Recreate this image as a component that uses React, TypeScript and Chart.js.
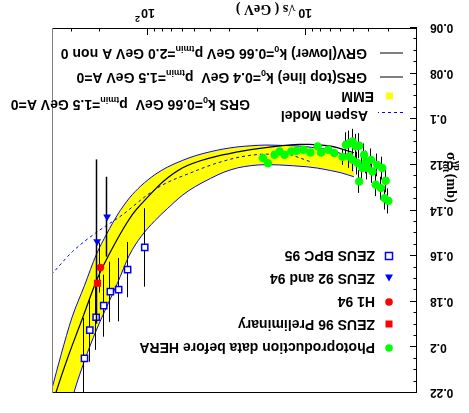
import React, { useEffect, useRef } from "react";
import { Chart, registerables } from "chart.js";

Chart.register(...registerables);

// ---------------- data (sqrt(s) in GeV, sigma in mb) ----------------
const EMM_SQRTS = [5, 6, 7, 8.5, 10, 12, 15, 18, 22, 27, 33, 40, 50, 60, 75, 90, 110, 130, 155, 180, 210, 250, 300, 350, 400];
const EMM_LOW = [0.1169, 0.1151, 0.1135, 0.1127, 0.112, 0.1116, 0.1114, 0.1113, 0.1116, 0.1121, 0.113, 0.1142, 0.116, 0.118, 0.121, 0.1243, 0.1292, 0.1345, 0.142, 0.15, 0.1592, 0.173, 0.1871, 0.203, 0.218];
const EMM_HIGH = [0.1252, 0.1235, 0.1225, 0.1214, 0.1208, 0.1204, 0.12, 0.1199, 0.1203, 0.1213, 0.1232, 0.1259, 0.1295, 0.1332, 0.1392, 0.1445, 0.1515, 0.1595, 0.172, 0.1819, 0.1924, 0.206, 0.223, 0.242, 0.261];

const GRS_SQRTS = [5, 7, 11, 18, 27, 40, 60, 80, 105, 125, 165, 210, 255, 315, 380, 420];
const GRS_SIGMA = [0.1147, 0.1118, 0.111, 0.1124, 0.1143, 0.1169, 0.1213, 0.1274, 0.1358, 0.1419, 0.156, 0.1708, 0.1866, 0.2036, 0.2204, 0.231];

const ASPEN_SQRTS = [9.5, 11, 13.3, 17.7, 25, 36.5, 54, 80, 100, 144, 213, 297, 400];
const ASPEN_SIGMA = [0.1185, 0.1169, 0.1153, 0.1153, 0.1163, 0.1192, 0.1236, 0.1287, 0.1331, 0.1419, 0.1499, 0.158, 0.1678];

const PRE_SQRTS = [18.72, 17.41, 15.81, 14.71, 13.68, 12.42, 11.5, 10.4, 9.4, 8.46, 8.05, 7.25, 6.65, 5.89, 5.61, 5.35, 5.1, 4.86, 4.63, 5.35, 5.1, 4.75, 4.63, 4.31, 4.2, 4.42, 4.11, 3.89, 3.82, 3.64, 3.38, 3.56, 3.31, 3.15, 3.2, 3.03];
const PRE_SIGMA = [0.117, 0.1193, 0.1156, 0.1141, 0.1156, 0.1141, 0.1138, 0.1134, 0.1146, 0.1119, 0.1146, 0.1134, 0.1148, 0.1165, 0.1112, 0.1105, 0.1097, 0.1119, 0.1116, 0.1163, 0.1178, 0.1192, 0.1273, 0.1156, 0.1187, 0.1214, 0.1214, 0.1178, 0.1229, 0.1287, 0.1302, 0.12, 0.1214, 0.127, 0.1346, 0.1358];
const PRE_ERR = [0.0015, 0.0015, 0.0015, 0.0015, 0.0015, 0.0015, 0.0015, 0.0015, 0.0015, 0.0015, 0.0015, 0.0015, 0.0015, 0.0035, 0.0055, 0.0055, 0.0055, 0.0055, 0.0055, 0.005, 0.005, 0.005, 0.005, 0.005, 0.005, 0.005, 0.005, 0.005, 0.005, 0.005, 0.005, 0.005, 0.005, 0.005, 0.005, 0.0055];

const BPC95_SQRTS = [249.6, 231.1, 210.7, 188.8, 171.4, 152.0, 133.5, 104.1];
const BPC95_SIGMA = [0.2048, 0.1924, 0.1868, 0.1817, 0.1756, 0.1747, 0.1659, 0.1562];
const BPC95_ERR = [0.0177, 0.0139, 0.0143, 0.0136, 0.0132, 0.0139, 0.0121, 0.0172];

const ZEUS9294_SQRTS = [207.7, 179.8];
const ZEUS9294_SIGMA = [0.1536, 0.1427];
const ZEUS9294_ERR = [0.036, 0.0175];

const H194_SQRTS = [198];
const H194_SIGMA = [0.165];
const H194_ERR = [0.011];

const ZEUS96_SQRTS = [206.8];
const ZEUS96_SIGMA = [0.1719];
const ZEUS96_ERR = [0.015];

const Y_TICKS = [0.06, 0.08, 0.1, 0.12, 0.14, 0.16, 0.18, 0.2, 0.22];
const Y_TICK_LABELS = ["0.06", "0.08", "0.1", "0.12", "0.14", "0.16", "0.18", "0.2", "0.22"];
const X_MAJOR = [10, 100];
const X_MINOR = [3, 4, 5, 6, 7, 8, 9, 20, 30, 40, 50, 60, 70, 80, 90, 200, 300];

// ---------------- helpers ----------------
const SANS = "'Liberation Sans', Arial, Helvetica, sans-serif";
const SERIF = "'Liberation Serif', 'Times New Roman', serif";

type Part = { t: string; sub?: boolean; sup?: boolean };

function drawRich(ctx: CanvasRenderingContext2D, parts: Part[], x: number, y: number, size: number, family = SANS) {
  let cx = x;
  for (const p of parts) {
    const s = p.sub || p.sup ? Math.round(size * 0.65) : size;
    ctx.font = `bold ${s}px ${family}`;
    const dy = p.sub ? size * 0.32 : p.sup ? -size * 0.4 : 0;
    ctx.fillText(p.t, cx, y + dy);
    cx += ctx.measureText(p.t).width;
  }
  return cx;
}

function line(ctx: CanvasRenderingContext2D, x1: number, y1: number, x2: number, y2: number) {
  ctx.beginPath();
  ctx.moveTo(x1, y1);
  ctx.lineTo(x2, y2);
  ctx.stroke();
}

const decorPlugin = {
  id: "decor",
  beforeDatasetDraw(chart: any, args: any) {
    const ds = chart.data.datasets[args.index];
    if (!ds.errors) return;
    const { ctx, chartArea: a } = chart;
    const xs = chart.scales.x;
    const ys = chart.scales.y;
    ctx.save();
    ctx.beginPath();
    ctx.rect(a.left, a.top, a.right - a.left, a.bottom - a.top);
    ctx.clip();
    ctx.strokeStyle = ds.errorColor || "#000";
    ctx.lineWidth = ds.errorWidth || 1;
    ds.data.forEach((p: any, i: number) => {
      const px = Math.round(xs.getPixelForValue(p.x)) + 0.5;
      line(ctx, px, ys.getPixelForValue(p.y - ds.errors[i]), px, ys.getPixelForValue(p.y + ds.errors[i]));
    });
    ctx.restore();
  },
  afterDraw(chart: any) {
    const { ctx, chartArea: a } = chart;
    const xs = chart.scales.x;
    const ys = chart.scales.y;
    const L = a.left, R = a.right, T = a.top, B = a.bottom;
    ctx.save();
    ctx.lineWidth = 1;
    // frame
    ctx.strokeStyle = "#000";
    line(ctx, L + 0.5, T, L + 0.5, B);
    line(ctx, L, B - 0.5, R, B - 0.5);
    line(ctx, L, T + 0.5, R, T + 0.5);
    ctx.strokeStyle = "#808080";
    line(ctx, R - 0.5, T, R - 0.5, B);

    // y ticks
    ctx.strokeStyle = "#000";
    for (let k = 0; k <= 32; k++) {
      const v = 0.06 + k * 0.005;
      const py = Math.round(ys.getPixelForValue(v)) + 0.5;
      const len = k % 4 === 0 ? 7 : 3.5;
      line(ctx, L, py, L + len, py);
    }
    // x ticks
    for (const v of X_MAJOR) {
      const px = Math.round(xs.getPixelForValue(v)) + 0.5;
      line(ctx, px, B, px, B - 7);
    }
    for (const v of X_MINOR) {
      const px = Math.round(xs.getPixelForValue(v)) + 0.5;
      line(ctx, px, B, px, B - 3.5);
    }

    // y tick labels
    ctx.fillStyle = "#000";
    ctx.textBaseline = "middle";
    ctx.textAlign = "right";
    ctx.font = `bold 12px ${SANS}`;
    Y_TICKS.forEach((v, i) => {
      ctx.fillText(Y_TICK_LABELS[i], L - 13, ys.getPixelForValue(v) + 0.5);
    });

    // x tick labels
    ctx.textAlign = "center";
    ctx.font = `bold 12.5px ${SANS}`;
    ctx.fillText("10", xs.getPixelForValue(10) + 1, 401);
    ctx.textAlign = "left";
    const p100 = xs.getPixelForValue(100);
    const w10 = ctx.measureText("10").width;
    ctx.fillText("10", p100 - 7.5, 401);
    ctx.font = `bold 9px ${SANS}`;
    ctx.fillText("2", p100 - 7.5 + w10 + 1, 395);

    // x title
    ctx.font = `bold 14px ${SERIF}`;
    ctx.fillText("\u221As ( GeV )", 173, 404);

    // y title (rotated)
    ctx.save();
    ctx.translate(18, 261);
    ctx.rotate(-Math.PI / 2);
    ctx.textAlign = "left";
    ctx.font = `bold 15px ${SERIF}`;
    ctx.fillText("\u03C3", 0, 0);
    let cx = ctx.measureText("\u03C3").width + 0.5;
    ctx.font = `bold 10px ${SERIF}`;
    ctx.fillText("tot", cx, 5);
    const wt = ctx.measureText("tot").width;
    ctx.fillText("\u03B3p", cx, -6);
    const wg = ctx.measureText("\u03B3p").width;
    cx += Math.max(wt, wg) + 1.5;
    ctx.font = `bold 14px ${SERIF}`;
    ctx.fillText("(mb)", cx, 0);
    ctx.restore();

    // ---------- legends ----------
    ctx.textAlign = "left";
    ctx.textBaseline = "middle";
    const TX = 94;
    const MX = 80;
    // BPC 95
    ctx.fillStyle = "#fff";
    ctx.strokeStyle = "#0000ff";
    ctx.lineWidth = 1.5;
    ctx.fillRect(MX - 3.5, 157 - 3.5, 7, 7);
    ctx.strokeRect(MX - 3.5, 157 - 3.5, 7, 7);
    // ZEUS 92 and 94 (triangle)
    ctx.fillStyle = "#0000ff";
    ctx.beginPath();
    ctx.moveTo(MX - 4, 138.5);
    ctx.lineTo(MX + 4, 138.5);
    ctx.lineTo(MX, 131.5);
    ctx.closePath();
    ctx.fill();
    // H1 94
    ctx.fillStyle = "#ff0000";
    ctx.beginPath();
    ctx.arc(MX, 111, 3.8, 0, Math.PI * 2);
    ctx.fill();
    // ZEUS 96
    ctx.fillRect(MX - 3.5, 89 - 3.5, 7, 7);
    // pre-HERA
    ctx.fillStyle = "#00ff00";
    ctx.beginPath();
    ctx.arc(MX, 65, 3.8, 0, Math.PI * 2);
    ctx.fill();

    ctx.fillStyle = "#000";
    ctx.font = `bold 14px ${SANS}`;
    ctx.fillText("ZEUS BPC 95", TX, 158);
    ctx.fillText("ZEUS 92 and 94", TX, 135);
    ctx.fillText("H1 94", TX, 112);
    ctx.fillText("ZEUS 96 Preliminary", TX, 89);
    ctx.fillText("Photoproduction data before HERA", TX, 66);

    // upper-right legend (model curves)
    ctx.strokeStyle = "#555";
    ctx.lineWidth = 1.5;
    line(ctx, 66, 360, 89, 360);
    line(ctx, 66, 336, 89, 336);
    ctx.fillStyle = "#ffff00";
    ctx.fillRect(76, 313.5, 7, 7);
    ctx.strokeStyle = "#0000ff";
    ctx.lineWidth = 1;
    ctx.setLineDash([3, 3]);
    line(ctx, 66, 300.5, 91, 300.5);
    ctx.setLineDash([]);

    ctx.fillStyle = "#000";
    drawRich(ctx, [{ t: "GRV(lower) k" }, { t: "0", sub: true }, { t: "=0.66 GeV p" }, { t: "tmin", sub: true }, { t: "=2.0 GeV A non 0" }], 102, 360, 14);
    drawRich(ctx, [{ t: "GRS(top line) k" }, { t: "0", sub: true }, { t: "=0.4 GeV  p" }, { t: "tmin", sub: true }, { t: "=1.5 GeV A=0" }], 102, 336, 14);
    ctx.font = `bold 14px ${SANS}`;
    ctx.fillText("EMM", 95, 317.5);
    drawRich(ctx, [{ t: "GRS k" }, { t: "0", sub: true }, { t: "=0.66 GeV  p" }, { t: "tmin", sub: true }, { t: "=1.5 GeV A=0" }], 219, 309, 14);
    ctx.font = `bold 14px ${SANS}`;
    ctx.fillText("Aspen Model", 101, 298);

    ctx.restore();
  },
};

const xy = (xs: number[], ys: number[]) => xs.map((x, i) => ({ x, y: ys[i] }));

export default function App() {
  const ref = useRef<HTMLCanvasElement>(null);

  useEffect(() => {
    const canvas = ref.current;
    if (!canvas) return;
    const lineBase = {
      pointRadius: 0,
      pointHoverRadius: 0,
      showLine: true,
      cubicInterpolationMode: "monotone",
    };
    const pointBase = {
      showLine: false,
      pointHoverRadius: 0,
    };
    const chart = new Chart(canvas, {
      type: "line",
      data: {
        datasets: [
          {
            ...lineBase,
            label: "EMM low",
            data: xy(EMM_SQRTS, EMM_LOW),
            borderColor: "#0000ff",
            borderWidth: 1,
            backgroundColor: "#ffff00",
            fill: 1,
            order: 10,
          },
          {
            ...lineBase,
            label: "EMM high",
            data: xy(EMM_SQRTS, EMM_HIGH),
            borderColor: "#0000ff",
            borderWidth: 1,
            fill: false,
            order: 9,
          },
          {
            ...lineBase,
            label: "GRS",
            data: xy(GRS_SQRTS, GRS_SIGMA),
            borderColor: "#000",
            borderWidth: 1.2,
            fill: false,
            order: 8,
          },
          {
            ...lineBase,
            label: "Aspen Model",
            data: xy(ASPEN_SQRTS, ASPEN_SIGMA),
            borderColor: "#0000ff",
            borderWidth: 1,
            borderDash: [3, 3],
            fill: false,
            order: 7,
          },
          {
            ...pointBase,
            label: "Photoproduction data before HERA",
            data: xy(PRE_SQRTS, PRE_SIGMA),
            errors: PRE_ERR,
            pointStyle: "circle",
            pointRadius: 4.2,
            pointBackgroundColor: "#00ff00",
            pointBorderColor: "#00ff00",
            pointBorderWidth: 0,
            order: 6,
          },
          {
            ...pointBase,
            label: "ZEUS BPC 95",
            data: xy(BPC95_SQRTS, BPC95_SIGMA),
            errors: BPC95_ERR,
            pointStyle: "rect",
            pointRadius: 4.4,
            pointBackgroundColor: "#ffffff",
            pointBorderColor: "#0000ff",
            pointBorderWidth: 1.5,
            order: 5,
          },
          {
            ...pointBase,
            label: "ZEUS 92 and 94",
            data: xy(ZEUS9294_SQRTS, ZEUS9294_SIGMA),
            errors: ZEUS9294_ERR,
            errorWidth: 1.5,
            pointStyle: "triangle",
            pointRotation: 0,
            pointRadius: 4.5,
            pointBackgroundColor: "#0000ff",
            pointBorderColor: "#0000ff",
            pointBorderWidth: 0,
            order: 4,
          },
          {
            ...pointBase,
            label: "H1 94",
            data: xy(H194_SQRTS, H194_SIGMA),
            errors: H194_ERR,
            pointStyle: "circle",
            pointRadius: 3.8,
            pointBackgroundColor: "#ff0000",
            pointBorderColor: "#ff0000",
            pointBorderWidth: 0,
            order: 3,
          },
          {
            ...pointBase,
            label: "ZEUS 96 Preliminary",
            data: xy(ZEUS96_SQRTS, ZEUS96_SIGMA),
            errors: ZEUS96_ERR,
            pointStyle: "rect",
            pointRadius: 5,
            pointBackgroundColor: "#ff0000",
            pointBorderColor: "#ff0000",
            pointBorderWidth: 0,
            order: 2,
          },
        ] as any,
      },
      options: {
        animation: false,
        responsive: false,
        devicePixelRatio: 1,
        events: [],
        layout: { padding: { left: 52, right: 52, top: 20, bottom: 28 } },
        plugins: { legend: { display: false }, tooltip: { enabled: false }, title: { display: false } },
        scales: {
          x: { type: "logarithmic", min: 2, max: 400, display: false },
          y: { type: "linear", min: 0.06, max: 0.22, display: false },
        },
      } as any,
      plugins: [decorPlugin as any],
    });
    return () => chart.destroy();
  }, []);

  return (
    <div
      style={{
        position: "fixed",
        left: 0,
        top: 0,
        width: 469,
        height: 413,
        background: "#fff",
        transform: "rotate(180deg)",
        transformOrigin: "50% 50%",
      }}
    >
      <canvas ref={ref} width={469} height={413} style={{ display: "block", width: 469, height: 413 }} />
    </div>
  );
}
